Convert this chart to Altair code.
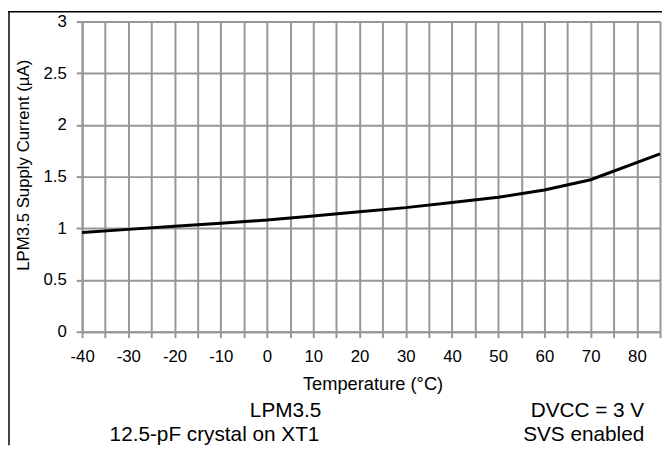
import altair as alt
import pandas as pd

# Data
temperature = [-40, -30, -20, -10, 0, 10, 20, 30, 40, 50, 60, 70, 85]
current_uA = [0.96, 0.99, 1.02, 1.05, 1.08, 1.12, 1.16, 1.20, 1.25, 1.30, 1.37, 1.47, 1.72]

x_ticks = list(range(-40, 90, 5))
y_ticks = [0, 0.5, 1, 1.5, 2, 2.5, 3]

notes_left = ["LPM3.5", "12.5-pF crystal on XT1"]
notes_right = ["DVCC = 3 V", "SVS enabled"]

df = pd.DataFrame({"t": temperature, "i": current_uA})

FONT = "Liberation Sans"
GRID = "#979797"
W, H = 585, 314

line = alt.Chart(df).mark_line(color="black", strokeWidth=3).encode(
    x=alt.X(
        "t:Q",
        scale=alt.Scale(domain=[-40, 85], nice=False, zero=False),
        axis=alt.Axis(
            values=x_ticks,
            labelExpr="datum.value % 10 == 0 ? '' + datum.value : ''",
            labelFlush=False,
            labelOverlap=False,
            title="Temperature (°C)",
            titleX=294,
            titleY=58,
            titleAlign="center",
            titleBaseline="alphabetic",
            titleFontSize=18.5,
            labelPadding=11,
            labelFontSize=17,
        ),
    ),
    y=alt.Y(
        "i:Q",
        scale=alt.Scale(domain=[0, 3], nice=False),
        axis=alt.Axis(
            values=y_ticks,
            format="~g",
            labelFlush=False,
            labelOverlap=False,
            title="LPM3.5 Supply Current (µA)",
            titleX=-54,
            titleY=145,
            titleAlign="center",
            titleBaseline="alphabetic",
            titleFontSize=17,
            labelPadding=10,
            labelFontSize=17,
        ),
    ),
)

blank = alt.Data(values=[{}])

t1 = alt.Chart(blank).mark_text(text=notes_left[0], font=FONT, fontSize=21, align="center",
                                baseline="alphabetic", color="black").encode(
    x=alt.value(206), y=alt.value(400))
t2 = alt.Chart(blank).mark_text(text=notes_left[1], font=FONT, fontSize=21, align="center",
                                baseline="alphabetic", color="black").encode(
    x=alt.value(134), y=alt.value(425))
t3 = alt.Chart(blank).mark_text(text=notes_right[0], font=FONT, fontSize=21, align="right",
                                baseline="alphabetic", color="black").encode(
    x=alt.value(569), y=alt.value(400))
t4 = alt.Chart(blank).mark_text(text=notes_right[1], font=FONT, fontSize=21, align="right",
                                baseline="alphabetic", color="black").encode(
    x=alt.value(569), y=alt.value(425))

frame_left = alt.Chart(blank).mark_rule(color="black", strokeWidth=1.5).encode(
    x=alt.value(-74), y=alt.value(-10), y2=alt.value(429))
frame_top = alt.Chart(blank).mark_rule(color="black", strokeWidth=1.5).encode(
    x=alt.value(-75), x2=alt.value(587), y=alt.value(-10))

chart = alt.layer(line, t1, t2, t3, t4, frame_left, frame_top).properties(
    width=W, height=H,
    autosize=alt.AutoSizeParams(type="none"),
    padding={"left": 75, "top": 11, "right": 2, "bottom": 115},
).configure_view(strokeWidth=0).configure_axis(
    grid=True,
    gridColor=GRID,
    gridWidth=2,
    gridOpacity=1,
    domainColor=GRID,
    domainWidth=2,
    tickColor=GRID,
    tickWidth=2,
    tickSize=6,
    labelFont=FONT,
    labelColor="black",
    titleFont=FONT,
    titleFontWeight="normal",
    titleColor="black",
)

chart.save("out.html", embed_options={"renderer": "svg", "actions": False})
